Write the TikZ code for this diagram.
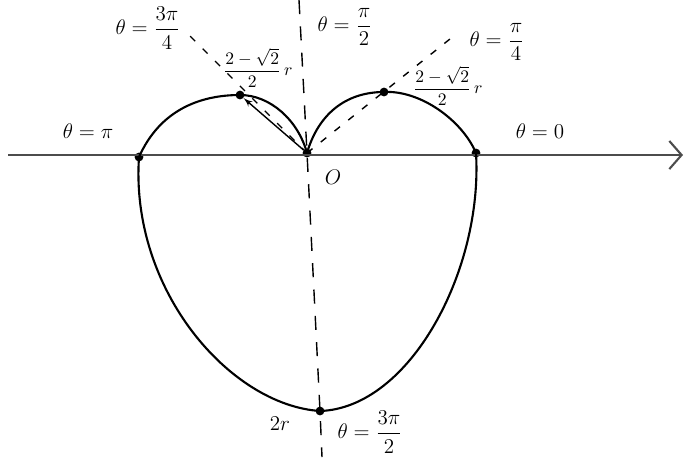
\documentclass[tikz,border=0pt]{standalone}
\usepackage{amsmath}
\usetikzlibrary{arrows, arrows.meta, positioning}

\begin{document}
\begin{tikzpicture}[
    x=0.02cm, y=-0.02cm,
    curve/.style={draw, very thick},
    axis/.style={draw, black!70, very thick, -{Straight Barb[length=7pt,width=16pt]}},
    ray/.style={draw, thick, dash pattern=on 4pt off 6pt},
    vray/.style={draw, thick, dash pattern=on 8pt off 7pt},
    dot/.style={circle, fill, inner sep=0pt, minimum size=5pt},
    lbl/.style={font=\large, inner sep=1pt},
    slbl/.style={font=\normalsize, inner sep=1pt}
]
\useasboundingbox (0,0) rectangle (685,457);

% points of the curve
\node [dot] (O) at (307,153) {};
\node [dot] (ltop) at (240,95) {};
\node [dot] (rtop) at (384,92) {};
\node [dot] (lcross) at (139,157) {};
\node [dot] (rcross) at (476,153) {};
\node [dot] (bot) at (320,411) {};

\coordinate (axl) at (8,155);
\coordinate (axr) at (683,155);
\coordinate (vtop) at (299,0);
\coordinate (vbot) at (322,457);
\coordinate (lend) at (187,33);
\coordinate (rend) at (455,35);

% labels
\node [lbl] (th34) at (148,28) {$\theta=\dfrac{3\pi}{4}$};
\node [lbl] (thpi2) at (345,27) {$\theta=\dfrac{\pi}{2}$};
\node [slbl] (rl) at (258,68) {$\dfrac{2-\sqrt{2}}{2}\,r$};
\node [lbl] (thpi4) at (497,42) {$\theta=\dfrac{\pi}{4}$};
\node [slbl] (rr) at (448,86) {$\dfrac{2-\sqrt{2}}{2}\,r$};
\node [lbl] (thpi) at (88,131) {$\theta=\pi$};
\node [lbl] (th0) at (540,131) {$\theta=0$};
\node [lbl] (olbl) at (333,177) {$O$};
\node [lbl] (tworr) at (280,424) {$2r$};
\node [lbl] (th32) at (370,432) {$\theta=\dfrac{3\pi}{2}$};

% axis and rays
\path [axis] (axl) -- (axr);
\path [vray] (vtop) -- (O.center) -- (bot.center) -- (vbot);
\path [ray] (O.center) -- (lend);
\path [ray] (O.center) -- (rend);
\path [draw, thick, -latex'] (O) -- (ltop);

% the curve
\path [curve] (O.center) .. controls (318,115) and (345,92) .. (rtop.center)
    .. controls (420,90) and (462,120) .. (rcross.center)
    .. controls (483,270) and (410,408) .. (bot.center)
    .. controls (230,405) and (130,290) .. (lcross.center)
    .. controls (160,110) and (200,95) .. (ltop.center)
    .. controls (270,95) and (298,120) .. (O.center);

\end{tikzpicture}
\end{document}
